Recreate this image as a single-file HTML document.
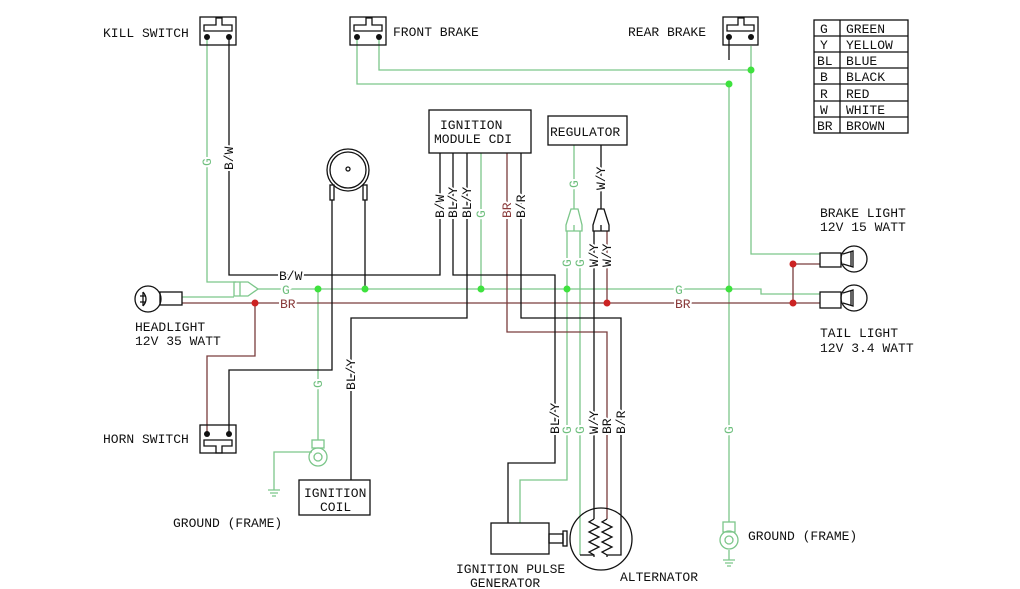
<!DOCTYPE html>
<html><head><meta charset="utf-8"><style>
html,body{margin:0;padding:0;background:#fff}
svg{display:block}
text{font-family:"Liberation Mono",monospace;font-size:13px;fill:#111}
.l{paint-order:stroke;stroke:#fff;stroke-width:4px}
.g{fill:#6fbf7e}.r{fill:#8a3b3b}
</style></head><body>
<svg width="1020" height="589" viewBox="0 0 1020 589" xmlns="http://www.w3.org/2000/svg">
<rect width="1020" height="589" fill="#fff"/>
<g fill="none" stroke-width="1.3">
<g stroke="#7cc68a">
<polyline points="207,37 207,282 236,282"/>
<polyline points="182,297 234,297"/>
<polyline points="258,289 729,289"/>
<polyline points="729,289 761,289 761,294 820,294"/>
<polyline points="357,37 357,84 729,84"/>
<polyline points="379,37 379,70 751,70"/>
<polyline points="729,84 729,522"/>
<polyline points="751,46 751,254 820,254"/>
<polyline points="318,289 318,440"/>
<polyline points="481,153 481,289"/>
<polyline points="574,145 574,209"/>
<polyline points="567,231 567,480 520,480 520,523"/>
<polyline points="580,231 580,555"/>
<polyline points="312,452 274,452 274,490"/>
<path d="M268,490h12M270,493h8M272,496h4"/>
<path d="M723,560h12M725,563h8M727,566h4M729,550v10"/>
<polygon points="571,209 578,209 582,225 582,231 566,231 566,225"/>
<path d="M574,225v6"/>
<polygon points="234,282 248,282 258,289 248,296 234,296"/>
<path d="M240,282v14"/>
<rect x="312" y="440" width="12" height="8"/><circle cx="318" cy="457" r="9"/><circle cx="318" cy="457" r="4"/>
<rect x="723" y="522" width="12" height="10"/><circle cx="729" cy="540" r="9"/><circle cx="729" cy="540" r="4"/>
</g>
<g stroke="#7a3d3d">
<polyline points="182,303 820,303"/>
<polyline points="255,303 255,356 207,356 207,434"/>
<polyline points="507,153 507,332 607,332 607,519"/>
<polyline points="607,231 607,303"/>
<polyline points="793,264 820,264"/>
<polyline points="793,264 793,303"/>
</g>
<g stroke="#111">
<polyline points="229,37 229,275 440,275 440,153"/>
<polyline points="453,153 453,275 555,275 555,463 508,463 508,523"/>
<polyline points="467,153 467,318 351,318 351,480"/>
<polyline points="521,153 521,318 621,318 621,555 607,555"/>
<polyline points="365,200 365,289"/>
<polyline points="332,200 332,370 229,370 229,434"/>
<polyline points="729,37 729,60"/>
<polyline points="601,145 601,209"/>
<polyline points="594,231 594,519"/>
<polygon points="598,209 604,209 609,225 609,231 593,231 593,225"/>
<path d="M601,225v6"/>
<rect x="200" y="17" width="36" height="28"/><path d="M204,31h28v-6h-10v-7h-6v7h-12z"/>
<rect x="350" y="17" width="36" height="28"/><path d="M354,31h28v-6h-10v-7h-6v7h-12z"/>
<rect x="723" y="17" width="35" height="28"/><path d="M727,31h27v-6h-10v-7h-6v7h-11z"/>
<rect x="200" y="425" width="36" height="28"/><path d="M204,440h28v6h-10v7h-6v-7h-12z"/>
<rect x="429" y="110" width="102" height="43"/>
<rect x="548" y="116" width="79" height="29"/>
<rect x="299" y="480" width="71" height="35"/>
<rect x="491" y="523" width="58" height="31"/>
<rect x="549" y="534" width="14" height="9"/><rect x="563" y="531" width="4" height="15"/>
<circle cx="601" cy="539" r="31"/>
<polyline points="580,555 594,555"/>
<path d="M594,519l-5,3 10,5 -10,5 10,5 -10,5 10,5 -10,5 5,3 v2"/>
<path d="M607,519l-5,3 10,5 -10,5 10,5 -10,5 10,5 -10,5 5,3 v2"/>
<circle cx="348" cy="170" r="21"/><circle cx="348" cy="170" r="18"/><circle cx="348" cy="169" r="2"/>
<rect x="330" y="185" width="4" height="15"/><rect x="363" y="185" width="4" height="15"/>
<rect x="160" y="292" width="22" height="13"/><circle cx="148" cy="299" r="13"/>
<path d="M143,292v14M143,292q6,7 0,14M140,296h6M140,302h6"/>
<rect x="820" y="253" width="21" height="14"/><circle cx="854" cy="259" r="13"/>
<path d="M843,254l10,-3v16l-10,-3M851,252v14"/>
<rect x="820" y="292" width="21" height="16"/><circle cx="854" cy="298" r="13"/>
<path d="M843,293l10,-3v16l-10,-3M851,291v14"/>
<rect x="814" y="20" width="94" height="113"/>
<path d="M840,20v113M814,36h94M814,52h94M814,68h94M814,84h94M814,101h94M814,117h94"/>
</g>
<g fill="#111"><circle cx="207" cy="37" r="3"/><circle cx="229" cy="37" r="3"/><circle cx="357" cy="37" r="3"/><circle cx="379" cy="37" r="3"/><circle cx="729" cy="37" r="3"/><circle cx="751" cy="37" r="3"/><circle cx="207" cy="434" r="3"/><circle cx="229" cy="434" r="3"/></g>
<g fill="#3ee23e"><circle cx="318" cy="289" r="3.5"/><circle cx="365" cy="289" r="3.5"/><circle cx="481" cy="289" r="3.5"/><circle cx="567" cy="289" r="3.5"/><circle cx="729" cy="289" r="3.5"/><circle cx="751" cy="70" r="3.5"/><circle cx="729" cy="84" r="3.5"/></g>
<g fill="#cc2222"><circle cx="255" cy="303" r="3.5"/><circle cx="607" cy="303" r="3.5"/><circle cx="793" cy="264" r="3.5"/><circle cx="793" cy="303" r="3.5"/></g>
<text x="103" y="37">KILL SWITCH</text>
<text x="393" y="36">FRONT BRAKE</text>
<text x="628" y="36">REAR BRAKE</text>
<text x="135" y="331">HEADLIGHT</text><text x="135" y="345">12V 35 WATT</text>
<text x="103" y="443">HORN SWITCH</text>
<text x="173" y="527">GROUND (FRAME)</text>
<text x="748" y="540">GROUND (FRAME)</text>
<text x="820" y="217">BRAKE LIGHT</text><text x="820" y="231">12V 15 WATT</text>
<text x="820" y="337">TAIL LIGHT</text><text x="820" y="352">12V 3.4 WATT</text>
<text x="440" y="129">IGNITION</text><text x="434" y="143">MODULE CDI</text>
<text x="550" y="136">REGULATOR</text>
<text x="304" y="497">IGNITION</text><text x="320" y="511">COIL</text>
<text x="456" y="573">IGNITION PULSE</text><text x="470" y="587">GENERATOR</text>
<text x="620" y="581">ALTERNATOR</text>
<text x="279" y="280" class="l">B/W</text>
<text x="282" y="294" class="l g">G</text>
<text x="280" y="308" class="l r">BR</text>
<text x="675" y="294" class="l g">G</text>
<text x="675" y="308" class="l r">BR</text>
<g style="font-size:14px">
<text x="820" y="33">G</text><text x="846" y="33">GREEN</text>
<text x="820" y="49">Y</text><text x="846" y="49">YELLOW</text>
<text x="817" y="65">BL</text><text x="846" y="65">BLUE</text>
<text x="820" y="81">B</text><text x="846" y="81">BLACK</text>
<text x="820" y="98">R</text><text x="846" y="98">RED</text>
<text x="820" y="114">W</text><text x="846" y="114">WHITE</text>
<text x="817" y="130">BR</text><text x="846" y="130">BROWN</text>
</g>
<g>
<text transform="translate(211,166) rotate(-90)" class="l g">G</text>
<text transform="translate(233,170) rotate(-90)" class="l">B/W</text>
<text transform="translate(444,218) rotate(-90)" class="l">B/W</text>
<text transform="translate(457,218) rotate(-90)" class="l">BL/Y</text>
<text transform="translate(471,218) rotate(-90)" class="l">BL/Y</text>
<text transform="translate(485,218) rotate(-90)" class="l g">G</text>
<text transform="translate(511,218) rotate(-90)" class="l r">BR</text>
<text transform="translate(525,218) rotate(-90)" class="l">B/R</text>
<text transform="translate(578,188) rotate(-90)" class="l g">G</text>
<text transform="translate(605,190) rotate(-90)" class="l">W/Y</text>
<text transform="translate(571,267) rotate(-90)" class="l g">G</text>
<text transform="translate(584,267) rotate(-90)" class="l g">G</text>
<text transform="translate(598,267) rotate(-90)" class="l">W/Y</text>
<text transform="translate(611,267) rotate(-90)" class="l">W/Y</text>
<text transform="translate(322,388) rotate(-90)" class="l g">G</text>
<text transform="translate(355,390) rotate(-90)" class="l">BL/Y</text>
<text transform="translate(559,434) rotate(-90)" class="l">BL/Y</text>
<text transform="translate(571,434) rotate(-90)" class="l g">G</text>
<text transform="translate(584,434) rotate(-90)" class="l g">G</text>
<text transform="translate(598,434) rotate(-90)" class="l">W/Y</text>
<text transform="translate(611,434) rotate(-90)" class="l">BR</text>
<text transform="translate(625,434) rotate(-90)" class="l">B/R</text>
<text transform="translate(733,434) rotate(-90)" class="l g">G</text>
</g>
</svg>
</body></html>
